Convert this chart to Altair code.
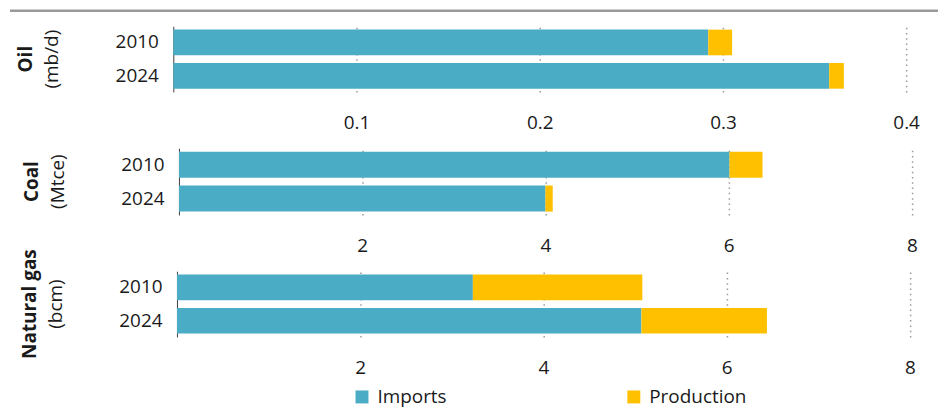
import altair as alt
import pandas as pd

years = ["2010", "2024"]
sources = ["Imports", "Production"]

oil_imports = [0.292, 0.358]
oil_production = [0.013, 0.008]
coal_imports = [6.01, 4.00]
coal_production = [0.36, 0.08]
gas_imports = [3.23, 5.07]
gas_production = [1.85, 1.37]

oil_ticks = [0.1, 0.2, 0.3, 0.4]
other_ticks = [2, 4, 6, 8]

TEXT = "#1a1a1a"
FONT = "Open Sans"
W = 750


def frame(imports, production):
    return pd.DataFrame({
        "year": years * 2,
        "source": [sources[0]] * 2 + [sources[1]] * 2,
        "value": imports + production,
        "order": [0, 0, 1, 1],
    })


def panel(name, unit, imports, production, domain, ticks, fmt, axis_offset, height):
    return alt.Chart(frame(imports, production)).mark_bar().encode(
        y=alt.Y("year:N", sort=years,
                scale=alt.Scale(paddingInner=0.23, paddingOuter=0.1),
                axis=alt.Axis(title=None, ticks=False, domain=True, domainColor="#404040",
                              domainWidth=1, labelPadding=15, labelFontSize=19,
                              labelColor=TEXT, offset=axis_offset)),
        x=alt.X("value:Q", stack="zero",
                scale=alt.Scale(domain=domain, nice=False, zero=False),
                axis=alt.Axis(title=None, values=ticks, format=fmt, ticks=False, domain=False,
                              grid=True, gridColor="#9a9a9a", gridDash=[1.5, 3.8], gridWidth=1.5,
                              labelPadding=22, labelFontSize=19, labelColor=TEXT,
                              labelFlush=False)),
        color=alt.Color("source:N",
                        scale=alt.Scale(domain=sources, range=["#4BACC6", "#FFC000"]),
                        legend=alt.Legend(title=None, orient="none", legendX=180, legendY=378,
                                          direction="horizontal", symbolType="square",
                                          symbolSize=169, labelFontSize=19, labelColor=TEXT,
                                          columnPadding=178, padding=0, labelOffset=6,
                                          symbolStrokeWidth=0)),
        order=alt.Order("order:Q"),
    ).properties(
        width=W, height=height,
        title=alt.TitleParams(text=name, subtitle=unit, orient="left", anchor="middle",
                              fontSize=19, fontWeight="bold", subtitleFontSize=19,
                              subtitleFontWeight="normal", color=TEXT, subtitleColor=TEXT,
                              font=FONT, subtitleFont=FONT, offset=53, subtitlePadding=7),
    )


oil = panel("Oil", "(mb/d)", oil_imports, oil_production, [0, W / 1840], oil_ticks, ".1f", 0, 66)
coal = panel("Coal", "(Mtce)", coal_imports, coal_production, [-5.7 / 92, (W - 5.7) / 92],
             other_ticks, "d", -5.7, 67)
gas = panel("Natural gas", "(bcm)", gas_imports, gas_production, [-3.7 / 92, (W - 3.7) / 92],
            other_ticks, "d", -3.7, 66)

top_rule = alt.Chart(pd.DataFrame({"a": [0]})).mark_rule(color="#999999", strokeWidth=2.5).encode(
    x=alt.value(-164), x2=alt.value(768), y=alt.value(0)
).properties(width=W, height=1)

panels = alt.vconcat(oil, coal, gas, spacing=56.5, bounds="flush")

chart = alt.vconcat(top_rule, panels, spacing=13.5).properties(
    padding={"left": 0, "top": 0, "right": 0, "bottom": 0}
).configure(font=FONT).configure_view(stroke=None)

chart.save("out.html", embed_options={"renderer": "svg", "actions": False})
